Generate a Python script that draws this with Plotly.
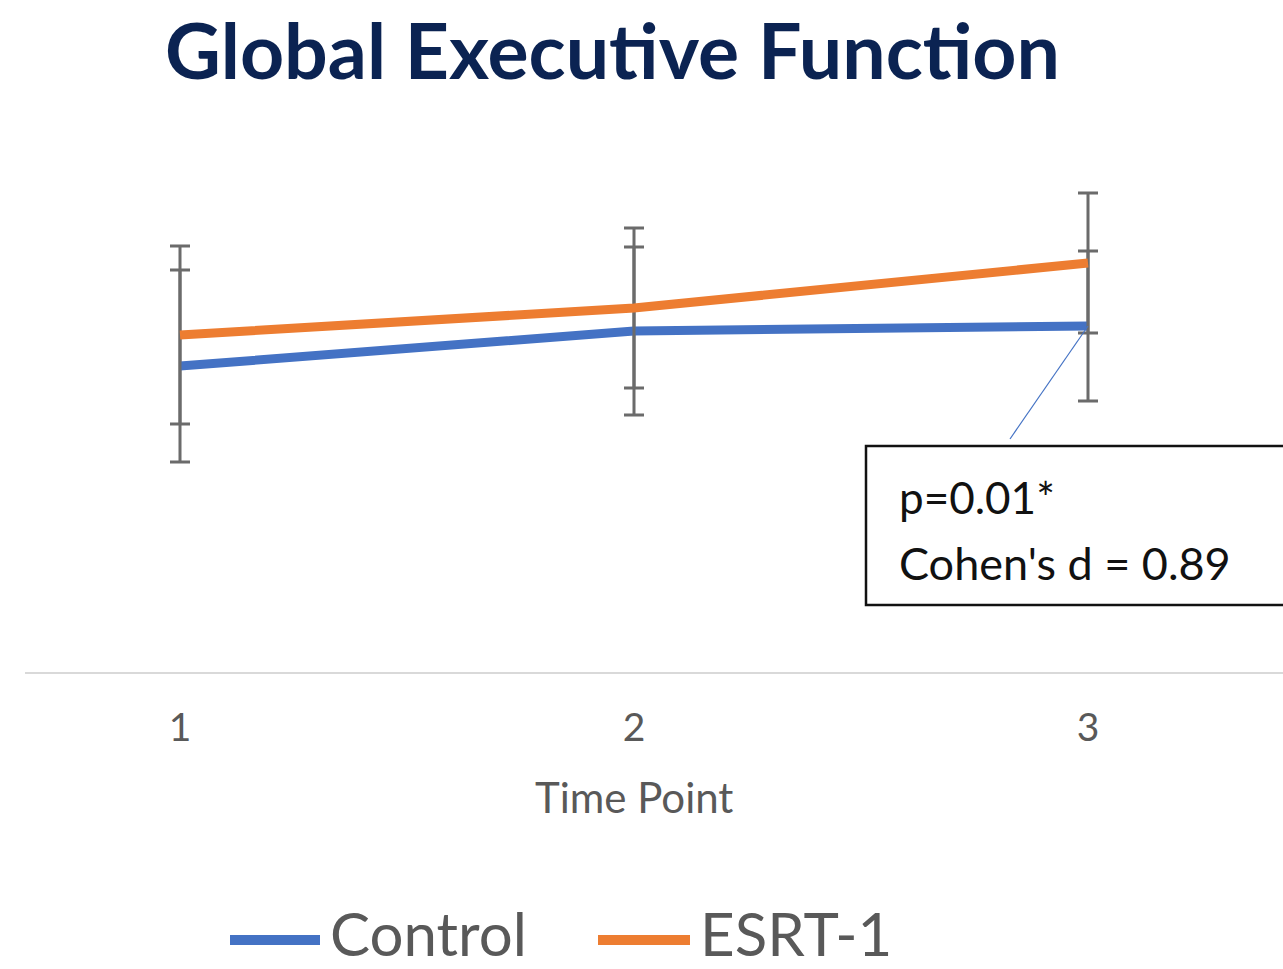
import plotly.graph_objects as go

# Time points and group means with +/- error
time_points = [1, 2, 3]
control_mean = [30.6, 34.1, 34.6]
control_err = [9.6, 8.4, 7.5]
esrt_mean = [33.7, 36.4, 40.9]
esrt_err = [8.9, 8.0, 7.0]

series_names = ["Control", "ESRT-1"]
series_colors = ["#4472C4", "#ED7D31"]
tick_labels = ["1", "2", "3"]

W, H = 1283, 969
M_L, M_R, M_T, M_B = 25, 0, 120, 297
plot_w = W - M_L - M_R
plot_h = H - M_T - M_B
px_per_unit = 454.0
x0 = 1 - (180 - M_L) / px_per_unit
x1 = x0 + plot_w / px_per_unit
y_max = plot_h / 10.0

TEXT_FONT = "Lato"
GRAY = "#595959"
ERR_COLOR = "#6b6b6b"

fig = go.Figure()
for name, mean, err, color in [
    (series_names[0], control_mean, control_err, series_colors[0]),
    (series_names[1], esrt_mean, esrt_err, series_colors[1]),
]:
    fig.add_trace(go.Scatter(
        x=time_points, y=mean, name=name, mode="lines",
        line=dict(color=color, width=9),
        error_y=dict(type="data", array=err, visible=True,
                     color=ERR_COLOR, thickness=3, width=10),
        showlegend=False,
    ))


def px_x(p):
    return (p - M_L) / plot_w


def px_y(p):
    return (H - M_B - p) / plot_h


# Callout box with statistics
fig.add_shape(type="rect", xref="paper", yref="paper",
              x0=px_x(866), x1=px_x(1300), y0=px_y(605), y1=px_y(446),
              line=dict(color="#111111", width=2.5), fillcolor="white", layer="above")
fig.add_annotation(xref="paper", yref="paper", x=px_x(897), y=px_y(497),
                   text="p=0.01*", showarrow=False, xanchor="left", yanchor="middle",
                   font=dict(family=TEXT_FONT, size=44, color="#111111"))
fig.add_annotation(xref="paper", yref="paper", x=px_x(897), y=px_y(563),
                   text="Cohen's d = 0.89", showarrow=False, xanchor="left", yanchor="middle",
                   font=dict(family=TEXT_FONT, size=45, color="#111111"))

# Leader line from the callout to the Control point at time 3
lead_x = time_points[2] - (1088 - 1010) / px_per_unit
lead_y = control_mean[2] - (440 - 327) / 10.0
fig.add_shape(type="line", xref="x", yref="y",
              x0=time_points[2], y0=control_mean[2], x1=lead_x, y1=lead_y,
              line=dict(color="#4472C4", width=1.2))

# Axis title, centred under the middle time point
fig.add_annotation(xref="x", yref="paper", x=time_points[1], y=px_y(797),
                   text="Time Point", showarrow=False, xanchor="center", yanchor="middle",
                   font=dict(family=TEXT_FONT, size=42, color=GRAY))

# Legend drawn beneath the axis title
legend_items = [(series_names[0], series_colors[0], 230, 320, 328),
                (series_names[1], series_colors[1], 598, 690, 698)]
for name, color, lx0, lx1, tx in legend_items:
    fig.add_shape(type="line", xref="paper", yref="paper",
                  x0=px_x(lx0), x1=px_x(lx1), y0=px_y(940), y1=px_y(940),
                  line=dict(color=color, width=10))
    fig.add_annotation(xref="paper", yref="paper", x=px_x(tx), y=px_y(933),
                       text=name, showarrow=False, xanchor="left", yanchor="middle",
                       font=dict(family=TEXT_FONT, size=60, color=GRAY))

fig.update_layout(
    width=W, height=H,
    margin=dict(l=M_L, r=M_R, t=M_T, b=M_B, pad=0),
    paper_bgcolor="white", plot_bgcolor="white",
    title=dict(text="<b>Global Executive Function</b>",
               x=165 / W, xref="container", xanchor="left",
               y=1 - 52 / H, yref="container", yanchor="middle",
               font=dict(family=TEXT_FONT, size=77, color="#0B2352")),
    xaxis=dict(range=[x0, x1], tickvals=time_points, ticktext=tick_labels,
               showgrid=False, zeroline=False, showline=True,
               linecolor="#d9d9d9", linewidth=2, ticks="",
               ticklabelstandoff=20,
               tickfont=dict(family=TEXT_FONT, size=39, color=GRAY)),
    yaxis=dict(range=[0, y_max], visible=False, showgrid=False, zeroline=False),
)

fig.write_html("out.html")
